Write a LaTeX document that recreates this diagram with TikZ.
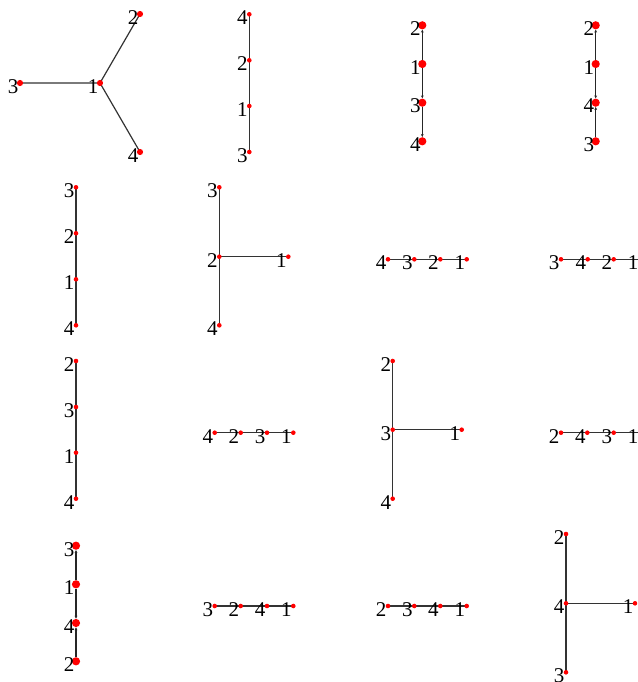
\documentclass[tikz,border=0pt]{standalone}
\usepackage{fontspec}
\setmainfont{Liberation Serif}
\usetikzlibrary{arrows.meta,backgrounds}
\tikzset{
  v/.style={circle,fill=red,inner sep=0pt,minimum size=4.6pt},
  vm/.style={circle,fill=red,inner sep=0pt,minimum size=6.2pt},
  vb/.style={circle,fill=red,inner sep=0pt,minimum size=8.2pt},
  lab/.style={anchor=base east,inner sep=0pt,font=\fontsize{21}{21}\selectfont},
  edge/.style={draw=black!80,line width=1.2pt},
  aedge/.style={draw=black!85,line width=1.2pt,-{Stealth[length=3pt,width=2.8pt]}}
}
\newcommand\vtx[5][v]{%
  \node[#1] (#2) at (#3,#4) {};
  \node[lab] (#2l) at ([xshift=-1.5pt,yshift=-10.3pt]#2.center) {#5};}
\begin{document}
\begin{tikzpicture}[x=1pt,y=-1pt]
\useasboundingbox (0,0) rectangle (637,682);
\clip (0,0) rectangle (637,682);
% A
\vtx[vm]{A1}{100}{83}{1}\vtx[vm]{A2}{140}{14}{2}\vtx[vm]{A3}{20}{83}{3}\vtx[vm]{A4}{140}{152}{4}
% B
\vtx{B4}{249.3}{14.3}{4}\vtx{B2}{249.3}{60.3}{2}\vtx{B1}{249.3}{106}{1}\vtx{B3}{249.3}{152}{3}
% C
\vtx[vb]{C2}{422.3}{25.3}{2}\vtx[vb]{C1}{422.3}{64}{1}\vtx[vb]{C3}{422.3}{102.7}{3}\vtx[vb]{C4}{422.3}{141.3}{4}
% D
\vtx[vb]{D2}{595.7}{25.3}{2}\vtx[vb]{D1}{595.7}{64}{1}\vtx[vb]{D4}{595.7}{102.7}{4}\vtx[vb]{D3}{595.7}{141.3}{3}
% E
\vtx{E3}{76}{187.3}{3}\vtx{E2}{76}{233.3}{2}\vtx{E1}{76}{279.3}{1}\vtx{E4}{76}{325.3}{4}
% F
\vtx{F3}{219.3}{187.3}{3}\vtx{F2}{219.3}{256.7}{2}\vtx{F1}{288.3}{256.7}{1}\vtx{F4}{219.3}{325.3}{4}
% G
\vtx{G4}{388}{259.3}{4}\vtx{G3}{414.3}{259.3}{3}\vtx{G2}{440.3}{259.3}{2}\vtx{G1}{466.7}{259.3}{1}
% H
\vtx{H3}{561}{259.3}{3}\vtx{H4}{587.7}{259.3}{4}\vtx{H2}{613.7}{259.3}{2}\vtx{H1}{640}{259.3}{1}
% I
\vtx{I2}{76}{361}{2}\vtx{I3}{76}{407}{3}\vtx{I1}{76}{452.7}{1}\vtx{I4}{76}{498.7}{4}
% J
\vtx{J4}{214.7}{432.7}{4}\vtx{J2}{240.7}{432.7}{2}\vtx{J3}{267}{432.7}{3}\vtx{J1}{293.3}{432.7}{1}
% K
\vtx{K2}{392.7}{361}{2}\vtx{K3}{392.7}{429.7}{3}\vtx{K1}{461.7}{429.7}{1}\vtx{K4}{392.7}{498.7}{4}
% L
\vtx{L2}{561}{432.7}{2}\vtx{L4}{587.3}{432.7}{4}\vtx{L3}{613.7}{432.7}{3}\vtx{L1}{640}{432.7}{1}
% M
\vtx[vb]{M3}{76}{545.7}{3}\vtx[vb]{M1}{76}{584.3}{1}\vtx[vb]{M4}{76}{623}{4}\vtx[vb]{M2}{76}{661.3}{2}
% N
\vtx{N3}{214.7}{606}{3}\vtx{N2}{240.7}{606}{2}\vtx{N4}{267}{606}{4}\vtx{N1}{293.3}{606}{1}
% O
\vtx{O2}{388}{606}{2}\vtx{O3}{414.3}{606}{3}\vtx{O4}{440.3}{606}{4}\vtx{O1}{466.7}{606}{1}
% P
\vtx{P2}{566}{534}{2}\vtx{P4}{566}{603.3}{4}\vtx{P1}{635}{603.3}{1}\vtx{P3}{566}{672.3}{3}
\begin{pgfonlayer}{background}
\draw[edge] (A1.center) -- (A2.center) (A1.center) -- (A3.center) (A1.center) -- (A4.center);
\draw[edge] (B4.center) -- (B2.center) -- (B1.center) -- (B3.center);
\draw[aedge] (C1) -- (C2); \draw[aedge] (C1) -- (C3); \draw[aedge] (C3) -- (C4);
\draw[aedge] (D1) -- (D2); \draw[aedge] (D1) -- (D4); \draw[aedge] (D3) -- (D4);
\draw[edge] (E3.center) -- (E2.center) -- (E1.center) -- (E4.center);
\draw[edge] (F2.center) -- (F3.center) (F2.center) -- (F1.center) (F2.center) -- (F4.center);
\draw[edge] (G4.center) -- (G3.center) -- (G2.center) -- (G1.center);
\draw[edge] (H3.center) -- (H4.center) -- (H2.center) -- (H1.center);
\draw[edge] (I2.center) -- (I3.center) -- (I1.center) -- (I4.center);
\draw[edge] (J4.center) -- (J2.center) -- (J3.center) -- (J1.center);
\draw[edge] (K3.center) -- (K2.center) (K3.center) -- (K1.center) (K3.center) -- (K4.center);
\draw[edge] (L2.center) -- (L4.center) -- (L3.center) -- (L1.center);
\draw[aedge] (M1) -- (M3); \draw[aedge] (M1) -- (M4); \draw[aedge] (M2) -- (M4);
\draw[edge] (N3.center) -- (N2.center) -- (N4.center) -- (N1.center);
\draw[edge] (O2.center) -- (O3.center) -- (O4.center) -- (O1.center);
\draw[edge] (P4.center) -- (P2.center) (P4.center) -- (P1.center) (P4.center) -- (P3.center);
\end{pgfonlayer}
\end{tikzpicture}
\end{document}
